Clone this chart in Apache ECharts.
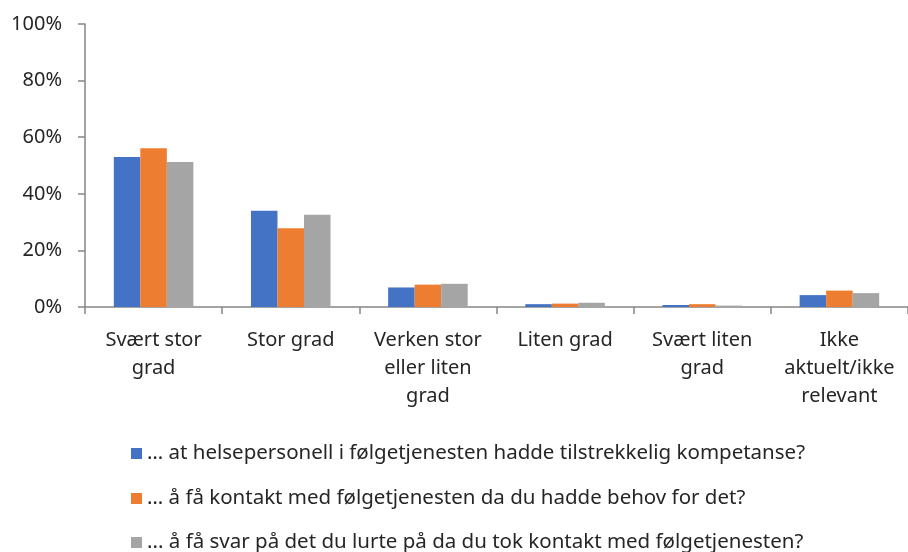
<!DOCTYPE html>
<html>
<head>
<meta charset="utf-8">
<script src="https://cdn.jsdelivr.net/npm/echarts@6/dist/echarts.min.js"></script>
<style>
  html, body { margin: 0; padding: 0; background: #fff; }
  #chart { width: 908px; height: 552px; }
</style>
</head>
<body>
<div id="chart"></div>
<script>
// kategorier
var categories = ['Svært stor\ngrad', 'Stor grad', 'Verken stor\neller liten\ngrad', 'Liten grad', 'Svært liten\ngrad', 'Ikke\naktuelt/ikke\nrelevant']
var seriesNames = [
  '… at helsepersonell i følgetjenesten hadde tilstrekkelig kompetanse?',
  '… å få kontakt med følgetjenesten da du hadde behov for det?',
  '... å få svar på det du lurte på da du tok kontakt med følgetjenesten?'
]
var kompetanse = [53.0, 34.0, 6.9, 1.0, 0.7, 4.2]
var kontakt = [56.1, 27.8, 7.9, 1.2, 1.0, 5.8]
var svar = [51.2, 32.6, 8.2, 1.5, 0.5, 4.9]
var yTicks = [0, 20, 40, 60, 80, 100]

var colors = ['#4472C4', '#ED7D31', '#A5A5A5']
var font = 'Noto Sans'
var textColor = '#262626'

// én legend per rad, så de står under hverandre
var legendTops = [443, 488, 532]
var legends = seriesNames.map(function (name, i) {
  return {
    orient: 'horizontal',
    left: 131,
    top: legendTops[i],
    padding: 0,
    icon: 'rect',
    itemWidth: 11,
    itemHeight: 11,
    textStyle: { fontFamily: font, fontSize: 20.5, lineHeight: 17, color: textColor },
    data: [name]
  }
})

var myChart = echarts.init(document.getElementById('chart'))
myChart.setOption({
  animation: false,
  color: colors,
  grid: {
    left: 85,
    top: 24,
    bottom: 245,
    right: -9,
    containLabel: false
  },
  legend: legends,
  xAxis: {
    type: 'category',
    data: categories,
    axisLine: { lineStyle: { color: '#868686', width: 1.5 } },
    axisTick: { show: true, length: 7, lineStyle: { color: '#868686', width: 1.5 } },
    axisLabel: {
      interval: 0,
      margin: 19,
      fontFamily: font,
      fontSize: 20,
      lineHeight: 28,
      color: textColor
    }
  },
  yAxis: {
    type: 'value',
    min: yTicks[0],
    max: yTicks[yTicks.length - 1],
    interval: 20,
    axisLine: { show: true, lineStyle: { color: '#868686', width: 1.5 } },
    axisTick: { show: true, length: 7, lineStyle: { color: '#868686', width: 1.5 } },
    splitLine: { show: false },
    axisLabel: {
      formatter: '{value}%',
      margin: 23,
      fontFamily: font,
      fontSize: 20,
      color: textColor
    }
  },
  series: [
    { name: seriesNames[0], type: 'bar', data: kompetanse, barGap: '0%', barCategoryGap: '42%' },
    { name: seriesNames[1], type: 'bar', data: kontakt, barGap: '0%', barCategoryGap: '42%' },
    { name: seriesNames[2], type: 'bar', data: svar, barGap: '0%', barCategoryGap: '42%' }
  ]
})
</script>
</body>
</html>
